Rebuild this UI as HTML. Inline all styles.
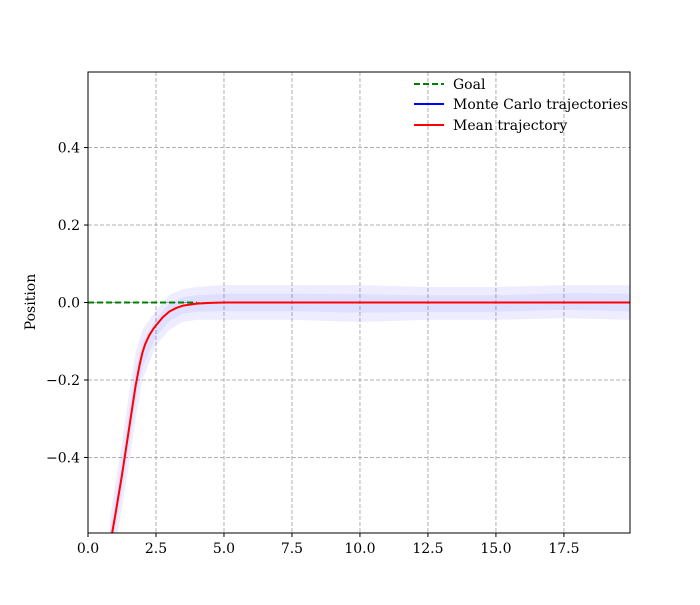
<!DOCTYPE html>
<html><head><meta charset="utf-8"><style>
body{margin:0;background:#fff}
svg text{font-family:"DejaVu Serif","Liberation Serif",serif;font-size:14px;fill:#000}
</style></head><body>
<svg id="chart" width="700" height="600">
<rect width="700" height="600" fill="#fff"/>
<g id="grid"></g>
<defs><clipPath id="pc"><rect x="88" y="72" width="542" height="461"/></clipPath></defs>
<g id="marks" clip-path="url(#pc)"></g>
<rect x="88" y="72" width="542" height="461" fill="none" stroke="#000" stroke-width="1"/>
<g id="ticks"></g>
<text x="35" y="302" transform="rotate(-90 35 302)" text-anchor="middle">Position</text>
<g>
<line x1="414" y1="84" x2="444" y2="84" stroke="green" stroke-width="2" stroke-dasharray="6,3"/>
<text x="453" y="89">Goal</text>
<line x1="414" y1="104" x2="444" y2="104" stroke="blue" stroke-width="2"/>
<text x="453" y="109">Monte Carlo trajectories</text>
<line x1="414" y1="125" x2="444" y2="125" stroke="red" stroke-width="2"/>
<text x="453" y="130">Mean trajectory</text>
</g>
</svg>
<script>
const meanX=[0.8,1.0,1.25,1.5,1.75,1.9,2.0,2.1,2.25,2.4,2.5,2.75,3.0,3.25,3.5,4.0,4.5,5.0,19.93];
const meanY=[-0.63,-0.55,-0.445,-0.33,-0.215,-0.16,-0.13,-0.108,-0.085,-0.068,-0.059,-0.038,-0.023,-0.014,-0.008,-0.003,-0.001,0,0];
const bandX=[0.8,1.0,1.25,1.5,1.75,2.0,2.5,3.0,3.5,4.0,5.0,7.5,10,12.5,15,17.5,19.93];
const bandLo=[-0.7,-0.63,-0.53,-0.42,-0.3,-0.2,-0.11,-0.07,-0.05,-0.045,-0.045,-0.045,-0.05,-0.045,-0.045,-0.04,-0.045];
const bandHi=[-0.56,-0.47,-0.36,-0.24,-0.13,-0.07,-0.02,0.02,0.035,0.04,0.045,0.045,0.045,0.04,0.04,0.045,0.045];
const xTicks=[0,2.5,5,7.5,10,12.5,15,17.5];
const xTickLabels=["0.0","2.5","5.0","7.5","10.0","12.5","15.0","17.5"];
const yTicks=[-0.4,-0.2,0,0.2,0.4];
const yTickLabels=["\u22120.4","\u22120.2","0.0","0.2","0.4"];
const goal=0;
const X0=88,X1=630,Y0=72,Y1=533,xmin=0,xmax=19.93,ymin=-0.595,ymax=0.595;
const sx=v=>X0+(v-xmin)/(xmax-xmin)*(X1-X0);
const sy=v=>Y1-(v-ymin)/(ymax-ymin)*(Y1-Y0);
const NS="http://www.w3.org/2000/svg";
function mk(t,a,p){const e=document.createElementNS(NS,t);for(const k in a)e.setAttribute(k,a[k]);p.appendChild(e);return e;}
const grid=document.getElementById('grid'),ticks=document.getElementById('ticks'),marks=document.getElementById('marks');
xTicks.forEach((v,i)=>{
 const g=mk('line',{x1:sx(v),x2:sx(v),y1:Y0,y2:Y1,stroke:'#b0b0b0','stroke-dasharray':'4,2'},grid);
 
 
 const t=mk('line',{x1:sx(v),x2:sx(v),y1:Y1,y2:Y1+4,stroke:'#000'},ticks);
 
 
 const l=mk('text',{x:sx(v),y:Y1+20,'text-anchor':'middle'},ticks);l.textContent=xTickLabels[i];
 
 
});
yTicks.forEach((v,i)=>{
 const g=mk('line',{x1:X0,x2:X1,y1:sy(v),y2:sy(v),stroke:'#b0b0b0','stroke-dasharray':'4,2'},grid);
 
 
 const t=mk('line',{x1:X0-4,x2:X0,y1:sy(v),y2:sy(v),stroke:'#000'},ticks);
 
 
 const l=mk('text',{x:X0-8,y:sy(v)+5,'text-anchor':'end'},ticks);l.textContent=yTickLabels[i];
 
 
});
let d='M'+bandX.map((x,i)=>sx(x)+','+sy(bandHi[i])).join('L');
for(let i=bandX.length-1;i>=0;i--)d+='L'+sx(bandX[i])+','+sy(bandLo[i]);
const b=mk('path',{d:d+'Z',fill:'rgba(0,0,255,0.07)'},marks);


let d2='M'+bandX.map((x,i)=>sx(x)+','+sy(bandHi[i]*0.5+bandLo[i]*0.5+(bandHi[i]-bandLo[i])*0.25)).join('L');
for(let i=bandX.length-1;i>=0;i--)d2+='L'+sx(bandX[i])+','+sy(bandHi[i]*0.5+bandLo[i]*0.5-(bandHi[i]-bandLo[i])*0.25);
const b2=mk('path',{d:d2+'Z',fill:'rgba(0,0,255,0.06)'},marks);


const gl=mk('line',{x1:sx(0),x2:sx(4),y1:sy(goal),y2:sy(goal),stroke:'green','stroke-width':2,'stroke-dasharray':'6,3'},marks);


const ml=mk('path',{d:'M'+meanX.map((x,i)=>sx(x)+','+sy(meanY[i])).join('L'),fill:'none',stroke:'red','stroke-width':2,'stroke-linejoin':'round'},marks);


</script>
</body></html>
